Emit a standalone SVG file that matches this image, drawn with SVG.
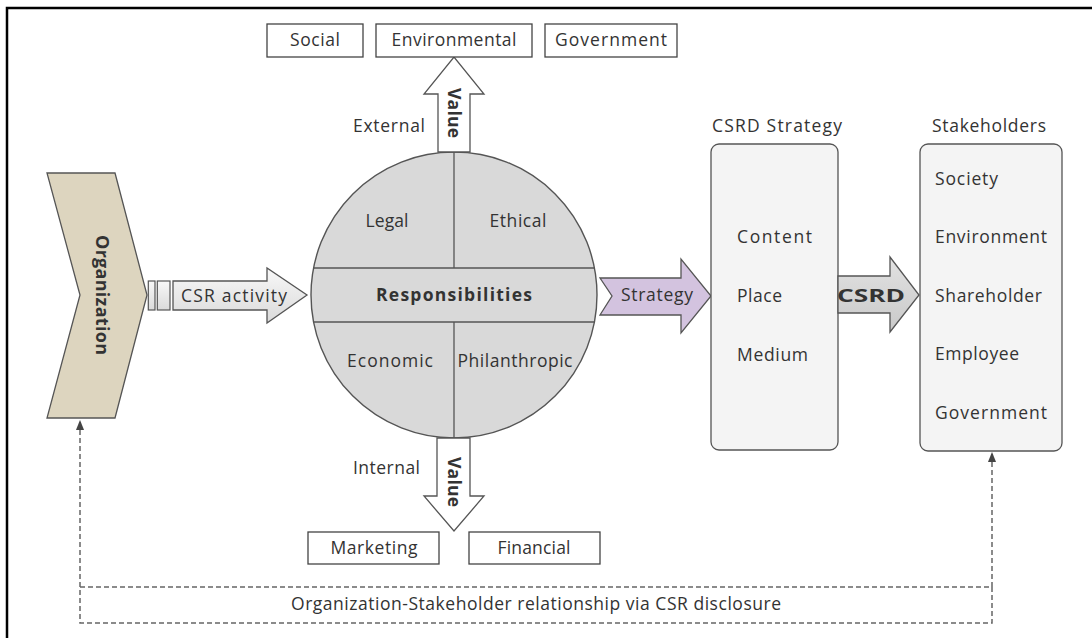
<svg xmlns="http://www.w3.org/2000/svg" width="1092" height="638" viewBox="0 0 1092 638">
  <style>
    text { font-family: "Open Sans", "Liberation Sans", sans-serif; font-size: 17.5px; fill: #333; }
    .b { font-weight: bold; }
    .c { text-anchor: middle; }
    .e { text-anchor: end; }
    .big { font-size: 18px; }
    .box { fill: #fff; stroke: #444; stroke-width: 1.3; }
    .panel { fill: #f4f4f4; stroke: #555; stroke-width: 1.3; }
    .ln { fill: none; stroke: #555; stroke-width: 1.3; }
    .dash { fill: none; stroke: #666; stroke-width: 1.5; stroke-dasharray: 5 3; }
  </style>
  <defs>
    <linearGradient id="g1" x1="0" y1="0" x2="0" y2="1">
      <stop offset="0" stop-color="#f8f8f8"/>
      <stop offset="1" stop-color="#dadada"/>
    </linearGradient>
    <linearGradient id="g2" x1="0" y1="0" x2="0" y2="1">
      <stop offset="0" stop-color="#e2e2e2"/>
      <stop offset="1" stop-color="#c9c9c9"/>
    </linearGradient>
    <marker id="ah" viewBox="0 0 10 10" refX="9" refY="5" markerWidth="7" markerHeight="7" orient="auto">
      <path d="M0,1 L10,5 L0,9 Z" fill="#444"/>
    </marker>
  </defs>

  <rect x="7" y="8" width="1100" height="650" fill="none" stroke="#000" stroke-width="2.5"/>

  <g id="organization">
    <polygon points="47,173 115,173 147,295 115,418 47,418 80,295" fill="#ddd5bf" stroke="#555" stroke-width="1.3"/>
    <text class="b c big" transform="translate(102,295) rotate(90)" y="6.5" textLength="120">Organization</text>
  </g>

  <g id="csr-activity">
    <rect x="148.3" y="281" width="6.7" height="29" fill="url(#g1)" stroke="#555" stroke-width="1.2"/>
    <rect x="157.3" y="281" width="12.7" height="29" fill="url(#g1)" stroke="#555" stroke-width="1.2"/>
    <polygon points="173,281 267,281 267,268 307,295 267,323 267,310 173,310" fill="url(#g1)" stroke="#555" stroke-width="1.3"/>
    <text class="c" x="234" y="302" textLength="106">CSR activity</text>
  </g>

  <g id="responsibilities">
    <circle cx="454" cy="295" r="143" fill="#d9d9d9" stroke="#555" stroke-width="1.4"/>
    <line class="ln" x1="313.6" y1="268" x2="594.4" y2="268"/>
    <line class="ln" x1="313.6" y1="322" x2="594.4" y2="322"/>
    <line class="ln" x1="454" y1="152" x2="454" y2="268"/>
    <line class="ln" x1="454" y1="322" x2="454" y2="438"/>
    <text class="c" x="387" y="227" textLength="43">Legal</text>
    <text class="c" x="518" y="227" textLength="57">Ethical</text>
    <text class="b c" x="454" y="301" textLength="156">Responsibilities</text>
    <text class="c" x="390" y="367" textLength="86">Economic</text>
    <text class="c" x="515" y="367" textLength="115">Philanthropic</text>
  </g>

  <g id="external-value">
    <polygon points="438,152 438,94 424,94 454,57 484,94 470,94 470,152" fill="#fff" stroke="#555" stroke-width="1.3"/>
    <text class="b c" transform="translate(454,113) rotate(90)" y="6.5" textLength="50">Value</text>
    <text class="e" x="425" y="132" textLength="72">External</text>
  </g>

  <g id="internal-value">
    <polygon points="437,438 437,496 424,496 454,531 484,496 470,496 470,438" fill="#fff" stroke="#555" stroke-width="1.3"/>
    <text class="b c" transform="translate(454,482) rotate(90)" y="6.5" textLength="50">Value</text>
    <text class="e" x="420" y="474" textLength="67">Internal</text>
  </g>

  <g id="social">
    <rect class="box" x="267" y="24" width="96" height="33"/>
    <text class="c" x="315" y="46" textLength="50">Social</text>
  </g>
  <g id="environmental">
    <rect class="box" x="376" y="24" width="156" height="33"/>
    <text class="c" x="454" y="46" textLength="125">Environmental</text>
  </g>
  <g id="government-top">
    <rect class="box" x="545" y="24" width="132" height="33"/>
    <text class="c" x="611" y="46" textLength="112">Government</text>
  </g>

  <g id="marketing">
    <rect class="box" x="308" y="532" width="131" height="32"/>
    <text class="c" x="374" y="554" textLength="87">Marketing</text>
  </g>
  <g id="financial">
    <rect class="box" x="469" y="532" width="131" height="32"/>
    <text class="c" x="534" y="554" textLength="73">Financial</text>
  </g>

  <g id="strategy-arrow">
    <polygon points="600,278 681,278 681,259 711,296 681,333 681,315 600,315 612,296" fill="#d3c3df" stroke="#555" stroke-width="1.3"/>
    <text class="c" x="657" y="301" textLength="72">Strategy</text>
  </g>

  <g id="csrd-strategy">
    <text class="c" x="777" y="132" textLength="130">CSRD Strategy</text>
    <rect class="panel" x="711" y="144" width="127" height="306" rx="8"/>
    <text x="737" y="243" textLength="75">Content</text>
    <text x="737" y="302" textLength="45">Place</text>
    <text x="737" y="361" textLength="71">Medium</text>
  </g>

  <g id="csrd-arrow">
    <polygon points="838,276 890,276 890,257 919,295 890,332 890,313 838,313" fill="url(#g2)" stroke="#555" stroke-width="1.3"/>
    <text class="b c big" x="871" y="302" textLength="68" lengthAdjust="spacingAndGlyphs">CSRD</text>
  </g>

  <g id="stakeholders">
    <text class="c" x="989" y="132" textLength="114">Stakeholders</text>
    <rect class="panel" x="920" y="144" width="142" height="307" rx="8"/>
    <text x="935" y="185" textLength="63">Society</text>
    <text x="935" y="243" textLength="112">Environment</text>
    <text x="935" y="302" textLength="107">Shareholder</text>
    <text x="935" y="360" textLength="84">Employee</text>
    <text x="935" y="419" textLength="112">Government</text>
  </g>

  <g id="connectors">
    <rect class="dash" x="80" y="587" width="912" height="36"/>
    <line class="dash" x1="80" y1="587" x2="80" y2="421" marker-end="url(#ah)"/>
    <line class="dash" x1="992" y1="587" x2="992" y2="453" marker-end="url(#ah)"/>
    <text class="c" x="536" y="610" textLength="490">Organization-Stakeholder relationship via CSR disclosure</text>
  </g>
</svg>
